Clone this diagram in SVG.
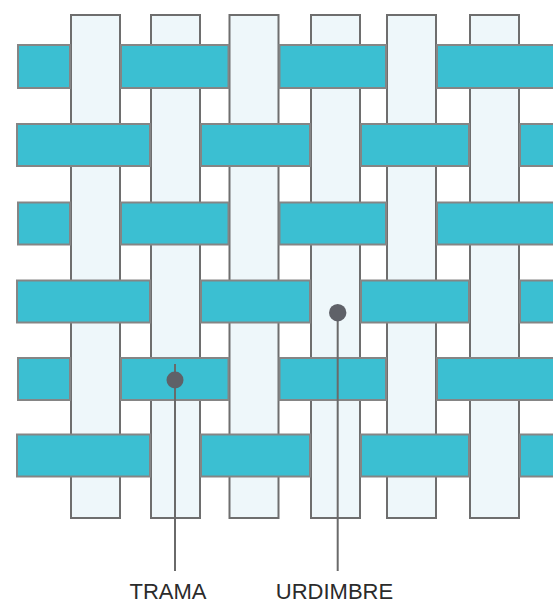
<svg xmlns="http://www.w3.org/2000/svg" width="553" height="605" viewBox="0 0 553 605">
<style>
.warp{fill:#eef7fa;stroke:#6e6e6e;stroke-width:2}
.weft{fill:#3bbfd2;stroke:#858585;stroke-width:2}
.lead{stroke:#6a6a6a;stroke-width:2;fill:none}
.dot{fill:#5f6168}
.lbl{font-family:"Liberation Sans",Arial,sans-serif;font-size:22px;fill:#2b2b2b;text-anchor:middle}
</style>
<rect width="553" height="605" fill="#ffffff"/>
<g id="warps">
<rect class="warp" x="71" y="15" width="49" height="503"/>
<rect class="warp" x="151" y="15" width="49" height="503"/>
<rect class="warp" x="229.5" y="15" width="49" height="503"/>
<rect class="warp" x="311" y="15" width="49" height="503"/>
<rect class="warp" x="387" y="15" width="49" height="503"/>
<rect class="warp" x="470" y="15" width="49" height="503"/>
</g>
<g id="wefts">
<g id="weft1">
<rect class="weft" x="18" y="45" width="52" height="43"/>
<rect class="weft" x="121" y="45" width="107.5" height="43"/>
<rect class="weft" x="279.5" y="45" width="106.5" height="43"/>
<rect class="weft" x="437" y="45" width="120" height="43"/>
</g>
<g id="weft2">
<rect class="weft" x="17" y="124" width="133" height="42"/>
<rect class="weft" x="201" y="124" width="109" height="42"/>
<rect class="weft" x="361" y="124" width="108" height="42"/>
<rect class="weft" x="520" y="124" width="40" height="42"/>
</g>
<g id="weft3">
<rect class="weft" x="18" y="202.5" width="52" height="42"/>
<rect class="weft" x="121" y="202.5" width="107.5" height="42"/>
<rect class="weft" x="279.5" y="202.5" width="106.5" height="42"/>
<rect class="weft" x="437" y="202.5" width="120" height="42"/>
</g>
<g id="weft4">
<rect class="weft" x="17" y="280.5" width="133" height="42"/>
<rect class="weft" x="201" y="280.5" width="109" height="42"/>
<rect class="weft" x="361" y="280.5" width="108" height="42"/>
<rect class="weft" x="520" y="280.5" width="40" height="42"/>
</g>
<g id="weft5">
<rect class="weft" x="18" y="358" width="52" height="42"/>
<rect class="weft" x="121" y="358" width="107.5" height="42"/>
<rect class="weft" x="279.5" y="358" width="106.5" height="42"/>
<rect class="weft" x="437" y="358" width="120" height="42"/>
</g>
<g id="weft6">
<rect class="weft" x="17" y="434.5" width="133" height="42"/>
<rect class="weft" x="201" y="434.5" width="109" height="42"/>
<rect class="weft" x="361" y="434.5" width="108" height="42"/>
<rect class="weft" x="520" y="434.5" width="40" height="42"/>
</g>
</g>
<g id="connectors">
<line class="lead" x1="175" y1="364" x2="175" y2="571"/>
<line class="lead" x1="337.7" y1="313" x2="337.7" y2="571"/>
</g>
<g id="trama">
<circle class="dot" cx="175" cy="380" r="8.5"/>
<text class="lbl" x="168" y="599">TRAMA</text>
</g>
<g id="urdimbre">
<circle class="dot" cx="337.7" cy="312.7" r="8.7"/>
<text class="lbl" x="334.5" y="599">URDIMBRE</text>
</g>
</svg>
